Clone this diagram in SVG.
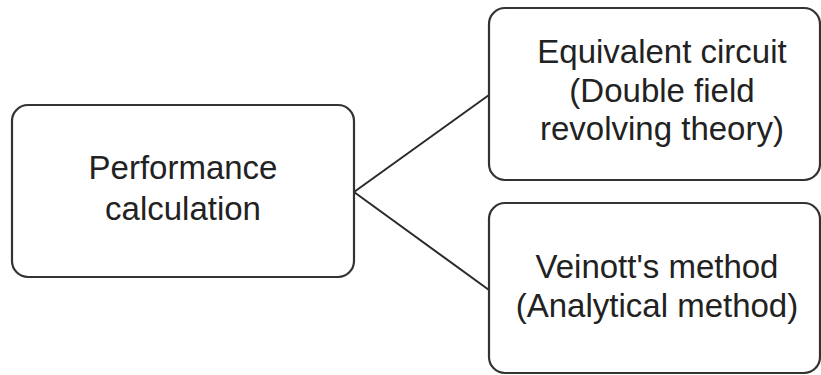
<svg xmlns="http://www.w3.org/2000/svg" width="821" height="375" viewBox="0 0 821 375">
  <style>
    .box { fill: #ffffff; stroke: #333333; stroke-width: 2.2; }
    .lbl { font-family: "Liberation Sans", Arial, sans-serif; font-size: 33px; fill: #222222; text-anchor: middle; }
    .conn { stroke: #2a2a2a; stroke-width: 2; fill: none; }
  </style>
  <rect width="821" height="375" fill="#ffffff"/>
  <g id="connectors">
    <line class="conn" x1="354" y1="192" x2="489" y2="95"/>
    <line class="conn" x1="354" y1="192" x2="489" y2="290"/>
  </g>
  <g id="node-performance">
    <rect class="box" x="12" y="105" width="342" height="172" rx="16" ry="16"/>
    <text class="lbl" x="183" y="179">Performance</text>
    <text class="lbl" x="183" y="220">calculation</text>
  </g>
  <g id="node-equivalent">
    <rect class="box" x="489" y="8" width="331" height="172" rx="16" ry="16"/>
    <text class="lbl" x="662" y="63">Equivalent circuit</text>
    <text class="lbl" x="662" y="102">(Double field</text>
    <text class="lbl" x="662" y="140">revolving theory)</text>
  </g>
  <g id="node-veinott">
    <rect class="box" x="489" y="203" width="331" height="170" rx="16" ry="16"/>
    <text class="lbl" x="657" y="278">Veinott's method</text>
    <text class="lbl" x="657" y="317">(Analytical method)</text>
  </g>
</svg>
